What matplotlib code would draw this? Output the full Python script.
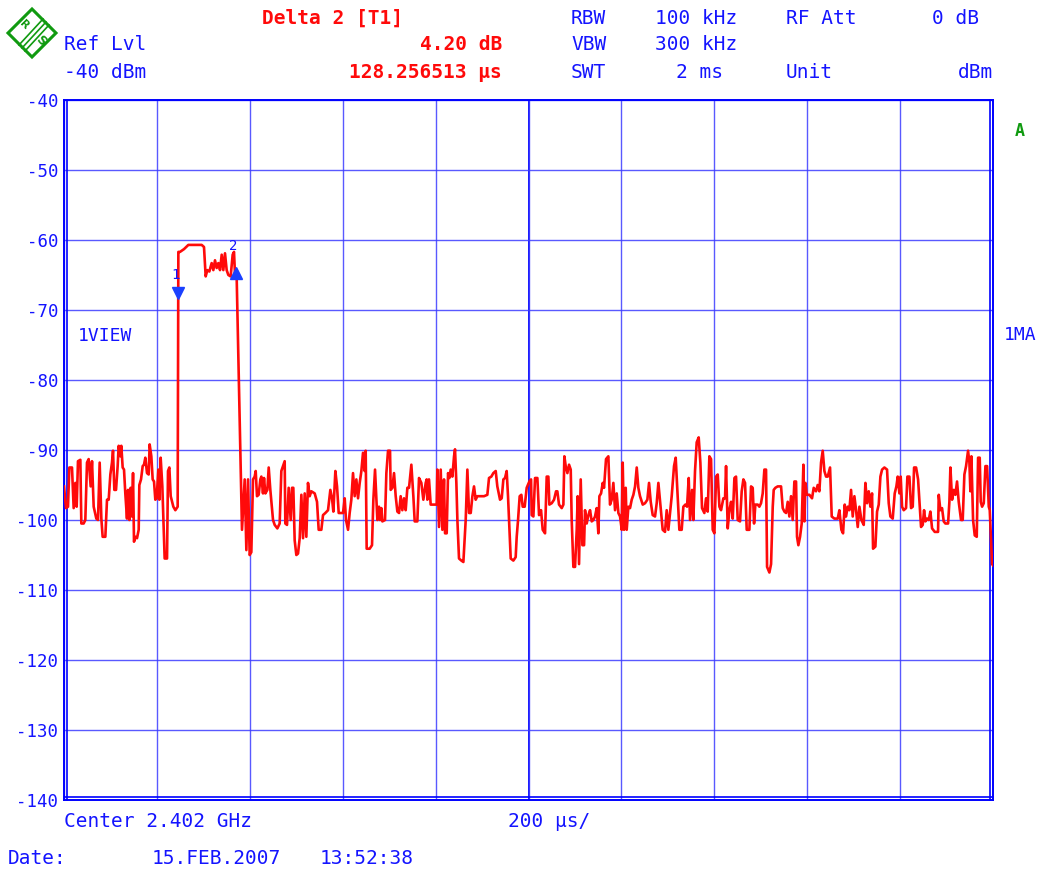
import matplotlib
matplotlib.use('Agg')
import matplotlib.pyplot as plt
from matplotlib.patches import Polygon
from matplotlib.lines import Line2D
import matplotlib.transforms as mtransforms

# ---------------- data ----------------
trace_t_us = [
    0, 4.3, 8.6, 11.5, 17.2, 20.8, 24.4, 27.3, 30.1, 35.2, 37.3, 42.3, 45.9, 49.5, 53.1, 57.4, 60.3, 63.9,
    69.6, 73.2, 76.8, 80.4, 83.2, 89.0, 92.6, 96.2, 99.8, 103.3, 105.5, 108.4, 112.0, 115.5, 117.7, 121.3,
    123.4, 126.3, 129.2, 132.0, 135.6, 137.8, 140.7, 143.5, 146.4, 148.6, 150.7, 153.6, 157.2, 160.8, 162.2,
    165.8, 169.4, 172.2, 175.1, 178.7, 182.3, 184.4, 188.0, 190.9, 193.8, 196.6, 199.5, 203.1, 205.2, 208.1,
    211.7, 214.6, 216.7, 221.8, 223.9, 226.8, 229.7, 235.4, 239.7, 244.7,
    246.2, 249.7, 258.4, 267.7, 296.4, 301.4, 305.0, 308.6, 312.9, 317.9, 321.5, 325.1, 328.7, 332.3,
    335.9, 339.5, 343.0, 346.6, 350.2, 353.8, 358.8, 363.1, 366.0, 368.2, 371.7,
    383.2, 389.0, 392.6, 396.2, 399.7, 403.3, 406.9, 410.5, 412.7, 415.5, 419.1, 422.7, 424.9, 428.4, 430.6,
    433.5, 437.8, 440.7, 444.2, 450.0, 453.6, 459.3, 464.3, 467.9, 475.1, 476.5, 480.1, 483.7, 488.0, 490.9,
    493.7, 496.6, 500.2, 503.8, 507.4, 511.0, 514.6, 518.2, 521.7, 525.3, 528.9, 532.5, 539.7, 544.7, 548.3,
    554.0, 557.6, 562.6, 568.4, 573.4, 577.0, 579.9, 584.2, 587.8, 591.4, 600.7, 604.3, 607.1, 611.5, 615.0,
    618.6, 622.2, 625.8, 629.4, 633.0, 636.6, 640.2, 643.7, 647.3, 649.5, 651.6, 658.1, 663.1, 666.0,
    669.6, 674.6, 678.2, 680.3, 683.2, 685.4, 691.1, 694.0, 697.6, 701.9, 703.3, 706.9, 710.5, 714.1, 717.7,
    721.3, 724.8, 728.4, 732.0, 735.6, 739.2, 742.8, 747.8, 752.1, 755.0, 760.7, 764.3, 769.3, 773.6, 778.7,
    780.8, 782.2, 785.8, 789.4, 802.4, 803.8, 807.4, 811.0, 814.6, 818.1, 820.3, 823.9, 826.8, 829.6, 832.5,
    836.1, 839.7, 841.8, 844.7, 846.9, 850.4, 855.5, 859.8, 864.8, 868.4, 872.0, 875.6, 879.2, 882.7, 886.3,
    889.9, 904.3, 911.4, 915.0, 920.0, 924.3, 929.4, 932.9, 938.7, 942.3, 945.9, 949.5, 953.0, 955.9, 958.1,
    961.7, 967.4, 972.4, 974.6, 977.5, 981.0, 984.6, 987.5, 991.8, 996.1, 1001.8,
    1005.5, 1006.9, 1010.5, 1014.1, 1019.1, 1022.7, 1027.0, 1030.6, 1035.6, 1039.2, 1042.8, 1044.9, 1050.0,
    1055.0, 1059.3, 1062.1, 1065.7, 1071.5, 1075.1, 1077.2, 1080.1, 1083.7, 1087.3, 1090.9, 1093.0, 1096.6,
    1100.2, 1103.8, 1105.9, 1108.8, 1112.4, 1116.0, 1119.6, 1121.7, 1125.3, 1128.9, 1132.5, 1136.1, 1139.7,
    1143.2, 1146.8, 1150.4, 1152.6, 1156.2, 1159.8, 1162.6, 1166.9, 1171.9, 1175.5, 1179.1, 1182.7, 1186.3,
    1189.9, 1193.5, 1197.1, 1200.7, 1202.8, 1205.7, 1209.3, 1211.4, 1215.0, 1218.6, 1222.2, 1225.8, 1229.4,
    1233.0, 1236.5, 1240.1, 1245.9, 1250.9, 1255.9, 1259.5, 1263.1, 1267.4, 1272.4, 1276.0, 1279.6, 1284.6,
    1288.9, 1293.9, 1297.5, 1301.1, 1304.7, 1308.3, 1313.3, 1316.9, 1320.5, 1324.8, 1329.8, 1333.4, 1337.7,
    1341.3, 1344.9, 1347.8, 1352.1, 1354.9, 1358.5, 1362.1, 1366.4, 1370.0, 1373.6, 1378.6, 1382.2, 1385.8,
    1389.4, 1393.0, 1396.6, 1400.2, 1403.8, 1407.4, 1411.0, 1414.5, 1419.5, 1423.1, 1425.3, 1428.9, 1432.5,
    1436.1, 1439.7, 1443.3, 1446.8, 1450.4, 1455.4, 1459.0, 1462.6, 1466.2, 1469.8, 1475.5, 1479.1, 1482.7,
    1485.6, 1488.4, 1493.5, 1497.0, 1500.6, 1504.2, 1507.8, 1511.4, 1513.6, 1518.6, 1522.2, 1525.8, 1527.9,
    1531.5, 1536.5, 1543.7, 1547.3, 1550.9, 1554.5, 1558.1, 1561.6, 1565.2, 1568.8, 1572.4, 1576.0, 1578.1,
    1581.0, 1584.6, 1588.2, 1591.8, 1593.9, 1596.1, 1599.0, 1604.7, 1610.4, 1614.0, 1619.0, 1622.6, 1626.2,
    1629.8, 1633.4, 1637.0, 1640.6, 1644.2, 1649.2, 1652.8, 1658.5, 1665.7, 1669.3, 1673.6,
    1677.2, 1680.8, 1683.6, 1687.2, 1690.8, 1694.4, 1698.0, 1701.6, 1705.2, 1708.8, 1712.4, 1716.7, 1721.7,
    1725.3, 1728.9, 1732.5, 1736.0, 1739.6, 1741.8, 1746.8, 1750.4, 1754.0, 1757.6, 1761.2, 1766.2, 1771.9,
    1775.5, 1779.1, 1784.1, 1788.4, 1792.0, 1794.9, 1798.5, 1801.3, 1804.2, 1807.8, 1812.8, 1815.7, 1820.0,
    1823.6, 1827.2, 1830.1, 1834.4, 1838.7, 1842.3, 1845.1, 1848.7, 1851.6, 1854.5, 1858.0, 1861.6, 1865.2,
    1868.8, 1874.6, 1881.7, 1883.2, 1886.7, 1890.3, 1893.9, 1897.5, 1903.3, 1906.1, 1908.3, 1911.9, 1915.5,
    1919.0, 1922.6, 1926.2, 1931.2, 1934.8, 1938.4, 1942.0, 1946.3, 1949.2, 1951.3, 1953.5, 1957.1, 1960.7,
    1965.0, 1967.9, 1971.4, 1973.6, 1976.5, 1980.1, 1983.7, 1987.3, 1990.9, 1993.0, 1998.0, 2000.0,
]
trace_dbm = [
    -95.2, -98.3, -98.1, -92.5, -92.5, -98.3, -94.7, -98.1, -91.6, -91.4, -100.5, -100.5, -100.0, -91.8, -91.3, -95.2, -91.6, -98.1,
    -99.8, -100.0, -91.8, -99.8, -102.4, -102.4, -97.1, -97.1, -93.5, -91.8, -90.1, -95.7, -95.7, -92.3, -89.4, -90.9,
    -89.4, -92.5, -92.8, -96.2, -99.8, -95.7, -100.0, -95.4, -99.5, -93.3, -103.1, -102.4, -102.6, -101.4, -95.0,
    -94.2, -92.3, -92.1, -91.1, -93.3, -93.5, -89.2, -90.9, -94.2, -94.5, -97.1, -96.9, -92.8, -97.1, -91.1,
    -95.2, -101.4, -105.5, -105.5, -93.0, -92.5, -96.6, -98.1, -98.6, -98.1,
    -61.7, -61.7, -61.3, -60.7, -60.7, -61.0, -65.2, -64.3, -64.5, -63.3, -64.3, -62.9, -64.0, -63.3,
    -64.3, -62.1, -64.3, -61.9, -64.3, -65.0, -65.2, -62.1, -61.7, -65.0, -65.2,
    -101.4, -94.2, -104.3, -94.2, -105.0, -104.6, -94.2, -93.8, -93.0, -96.6, -96.4, -94.2, -93.8, -96.2, -94.0,
    -96.2, -95.7, -92.5, -95.7, -100.0, -100.7, -101.2, -100.5, -93.0, -91.6, -100.5, -100.7, -95.4, -100.0, -95.4,
    -95.4, -102.9, -105.0, -104.8, -102.6, -96.4, -102.6, -96.2, -102.4, -94.7, -96.6, -95.9, -96.2, -97.4, -101.4,
    -101.4, -99.3, -99.0, -98.6, -95.7, -96.9, -98.8, -93.0, -95.2, -99.0, -99.0, -96.9, -100.0, -101.4, -99.0,
    -97.1, -93.3, -96.6, -94.2, -96.9, -94.7, -93.0, -90.4, -93.0, -90.1, -104.1, -104.1, -103.6, -97.1,
    -92.8, -100.0, -98.1, -100.0, -98.3, -100.2, -100.0, -93.3, -90.1, -90.1, -95.7, -95.4, -93.3, -96.6, -98.8,
    -99.0, -96.6, -98.6, -96.9, -98.6, -95.4, -95.4, -92.1, -96.6, -100.2, -100.2, -94.0, -94.7, -97.1, -94.7,
    -94.2, -97.1, -94.2, -97.8, -97.8, -92.8, -101.0, -92.8, -101.4, -94.2, -101.9, -101.9, -93.3, -94.0, -92.8,
    -93.8, -90.9, -89.9, -94.7, -100.0, -105.5, -105.8, -106.0, -100.0, -92.8, -99.0, -99.0, -96.6, -95.2, -97.1,
    -96.6, -96.6, -96.4, -94.0, -93.8, -93.3, -93.0, -95.2, -97.1, -96.9, -94.2, -94.0, -93.0, -96.6, -100.0,
    -105.5, -105.8, -105.3, -102.4, -100.0, -96.6, -96.4, -98.1, -98.1, -95.4, -94.5,
    -94.2, -99.3, -99.5, -94.0, -94.0, -99.3, -98.6, -101.4, -101.9, -93.8, -93.8, -97.8, -97.6,
    -97.1, -95.9, -95.9, -97.8, -98.3, -97.8, -90.9, -92.3, -93.3, -92.1, -92.8, -100.0, -106.7,
    -106.7, -101.4, -96.6, -106.3, -94.2, -103.6, -103.6, -98.6, -100.5, -99.3, -98.6, -100.2, -100.0,
    -99.5, -98.3, -101.9, -96.6, -96.2, -94.7, -95.4, -91.3, -90.9, -97.8, -97.1, -94.7, -98.6,
    -96.2, -99.0, -99.5, -101.4, -91.8, -101.4, -95.4, -101.4, -98.1, -98.3, -97.1, -96.4, -95.2,
    -92.5, -95.4, -96.6, -97.8, -97.6, -97.1, -94.7, -97.4, -99.3, -99.5, -97.6, -94.7, -98.3,
    -101.4, -101.7, -98.6, -101.4, -99.0, -96.6, -92.3, -91.1, -95.7, -101.4, -101.4, -98.1, -97.8,
    -98.1, -94.0, -100.0, -95.7, -100.0, -93.0, -88.9, -88.2, -91.8, -98.3, -99.0, -96.9, -98.8,
    -90.9, -91.3, -101.4, -101.9, -93.8, -93.5, -98.1, -98.6, -96.9, -96.9, -92.3, -101.2, -98.6,
    -97.4, -99.8, -94.0, -93.8, -100.0, -100.2, -95.9, -94.2, -94.7, -101.4, -101.4, -95.2, -95.4,
    -100.5, -97.8, -97.8, -98.1, -97.6, -96.2, -92.8, -92.8, -106.7, -107.5, -106.3, -98.1, -95.7,
    -95.4, -95.2, -95.2, -98.3, -98.8, -99.0, -97.4, -99.5, -96.6, -100.0, -94.5, -94.5, -102.4,
    -103.6, -102.4, -100.5, -92.1, -100.2, -94.7, -96.4, -96.4, -96.9, -95.4, -95.9, -95.0, -95.9,
    -91.8, -90.1, -93.0, -93.8, -93.8, -92.5, -99.5, -99.8, -99.8, -98.6, -101.4,
    -101.9, -97.8, -99.5, -98.1, -98.6, -95.7, -99.5, -96.6, -98.6, -101.0, -98.1, -100.0, -100.7,
    -94.7, -97.6, -95.9, -98.1, -96.2, -104.1, -103.8, -98.8, -97.8, -93.8, -92.8, -92.5, -92.8,
    -97.6, -99.5, -99.8, -96.2, -95.2, -93.8, -96.2, -93.8, -98.1, -98.6, -98.3, -93.8, -93.8,
    -98.3, -98.1, -92.5, -92.5, -94.2, -98.1, -101.0, -100.7, -98.6, -100.2, -99.8, -100.0, -98.8,
    -101.2, -101.7, -101.7, -96.4, -98.6, -98.3, -100.2, -100.5, -100.5, -97.4, -92.5, -97.1, -95.7,
    -96.4, -94.5, -97.4, -100.0, -100.0, -93.5, -92.3, -90.1, -91.8, -95.9, -90.9, -100.0, -102.2,
    -102.4, -91.1, -91.1, -97.4, -98.1, -97.6, -92.3, -92.3, -98.1, -98.6, -106.3, -106.5,
]

marker_t_us = [245.5, 370.3]
marker_dbm = [-68.2, -64.0]
marker_names = ['1', '2']

y_ticks = [-40, -50, -60, -70, -80, -90, -100, -110, -120, -130, -140]
y_tick_labels = ['-40', '-50', '-60', '-70', '-80', '-90', '-100', '-110', '-120', '-130', '-140']
x_divisions_us = list(range(0, 2001, 200))

# ---------------- styling ----------------
BLUE = '#1414ff'
GRID = '#3c3cff'
RED = '#ff0a0a'
GREEN = '#109a10'
FONT = 'DejaVu Sans Mono'

W, H = 1045, 871
fig = plt.figure(figsize=(W / 100, H / 100), dpi=100)
fig.patch.set_facecolor('white')

L, R, T, B = 64, 993, 100, 800
ax = fig.add_axes([L / W, 1 - B / H, (R - L) / W, (B - T) / H])
ax.set_xlim(0, 2000)
ax.set_ylim(-140, -40)

ax.set_xticks(x_divisions_us)
ax.set_yticks(y_ticks)
ax.set_yticklabels(y_tick_labels, fontfamily=FONT, fontsize=12.5, color=BLUE)
ax.set_xticklabels([])
ax.tick_params(axis='both', length=0, pad=4)
ax.grid(True, color=GRID, lw=1.0, alpha=0.85)
ax.axvline(1000, color='#0000ff', lw=1.3, zorder=1)

for sp in ax.spines.values():
    sp.set_color('#0000ff')
    sp.set_linewidth(1.4)

# inner lines of the double frame (left, right, bottom)
off = 3 / 100.0
for (xs, ys, dx, dy) in [([0, 0], [0, 1], off, 0), ([1, 1], [0, 1], -off, 0), ([0, 1], [0, 0], 0, off)]:
    tr = ax.transAxes + mtransforms.ScaledTranslation(dx, dy, fig.dpi_scale_trans)
    ax.add_line(Line2D(xs, ys, transform=tr, color='#0000ff', lw=1.2, clip_on=False))

ax.plot(trace_t_us, trace_dbm, color=RED, lw=1.9, zorder=3)

# markers
down_tr = mtransforms.offset_copy(ax.transData, fig=fig, x=0, y=3.5, units='points')
up_tr = mtransforms.offset_copy(ax.transData, fig=fig, x=0, y=-3.3, units='points')
ax.plot(marker_t_us[:1], marker_dbm[:1], 'v', color='#1a40ff', ms=8, transform=down_tr, zorder=4)
ax.plot(marker_t_us[1:], marker_dbm[1:], '^', color='#1a40ff', ms=8, transform=up_tr, zorder=4)
for tx, lv, nm in zip(marker_t_us, marker_dbm, marker_names):
    ax.annotate(nm, (tx, lv), xytext=(-2, 16), textcoords='offset points',
                ha='center', va='center', color=BLUE, fontfamily=FONT, fontsize=10)

ax.text((78 - L) / (R - L), 1 - (336 - T) / (B - T), '1VIEW', transform=ax.transAxes,
        ha='left', va='center', color=BLUE, fontfamily=FONT, fontsize=13)


def ft(x, y, s, ha='left', color=BLUE, size=14, **kw):
    fig.text(x / W, 1 - y / H, s, ha=ha, va='center', color=color, fontfamily=FONT, fontsize=size, **kw)


# header
ft(64, 45, 'Ref Lvl')
ft(64, 73, '-40 dBm')
ft(333, 18, 'Delta 2 [T1]', ha='center', color=RED, fontweight='bold')
ft(502, 45, '4.20 dB', ha='right', color=RED, fontweight='bold')
ft(502, 73, '128.256513 µs', ha='right', color=RED, fontweight='bold')
ft(571, 18, 'RBW')
ft(737, 18, '100 kHz', ha='right')
ft(786, 18, 'RF Att')
ft(979, 18, '0 dB', ha='right')
ft(571, 45, 'VBW')
ft(737, 45, '300 kHz', ha='right')
ft(571, 73, 'SWT')
ft(723, 73, '2 ms', ha='right')
ft(786, 73, 'Unit')
ft(993, 73, 'dBm', ha='right')

# side labels
ft(1020, 131, 'A', ha='center', color=GREEN, size=12, fontweight='bold')
ft(1004, 335, '1MA', size=13)

# footer
ft(64, 821, 'Center 2.402 GHz')
ft(508, 821, '200 µs/')
ft(8, 858, 'Date:')
ft(152, 858, '15.FEB.2007')
ft(320, 858, '13:52:38')

# logo (R&S diamond)
def fp(x, y):
    return (x / W, 1 - y / H)

cx, cy, r = 32, 33, 24
diamond = Polygon([fp(cx, cy - r), fp(cx + r, cy), fp(cx, cy + r), fp(cx - r, cy)], closed=True,
                  transform=fig.transFigure, fill=False, edgecolor=GREEN, lw=2.2)
fig.add_artist(diamond)
for k in (-3, 0, 3):
    fig.add_artist(Line2D([fp(22 + k, 48 + k)[0], fp(46 + k, 22 + k)[0]],
                          [fp(22 + k, 48 + k)[1], fp(46 + k, 22 + k)[1]],
                          transform=fig.transFigure, color=GREEN, lw=1.2))
fig.text(*fp(24, 25), 'R', color=GREEN, fontsize=8, fontweight='bold', ha='center', va='center', rotation=-45)
fig.text(*fp(41, 41), 'S', color=GREEN, fontsize=9, fontweight='bold', ha='center', va='center', rotation=-45)

fig.savefig('out.png', dpi=100, facecolor='white')
